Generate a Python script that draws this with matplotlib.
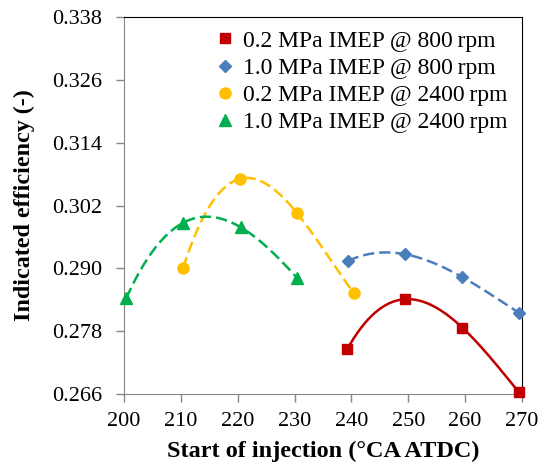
import numpy as np
import matplotlib
matplotlib.use('Agg')
from matplotlib import pyplot as plt

plt.rcParams['font.family'] = ['Liberation Serif', 'DejaVu Serif']

# start of injection (deg CA ATDC) and indicated efficiency
soi_800_low = [239.3, 249.4, 259.5, 269.5]
eff_800_low = [0.2746, 0.2841, 0.2787, 0.2663]

soi_800_high = [239.4, 249.4, 259.4, 269.5]
eff_800_high = [0.2914, 0.2927, 0.2884, 0.2815]

soi_2400_low = [210.4, 220.4, 230.4, 240.4]
eff_2400_low = [0.2901, 0.3071, 0.3006, 0.2853]

soi_2400_high = [200.4, 210.4, 220.6, 230.5]
eff_2400_high = [0.2843, 0.2987, 0.2978, 0.2881]

labels = ['0.2 MPa IMEP @ 800\u2009rpm', '1.0 MPa IMEP @ 800\u2009rpm',
          '0.2 MPa IMEP @ 2400\u2009rpm', '1.0 MPa IMEP @ 2400\u2009rpm']

fig = plt.figure(figsize=(5.38, 4.65), dpi=100)
ax = fig.add_axes([0.2305, 0.1527, 0.7395, 0.8107])

dash = (0, (4.5, 2))
series = [
    (soi_800_low, eff_800_low, '#C00000', 's', '-', 7),
    (soi_800_high, eff_800_high, '#4A7EBB', 'D', dash, 6),
    (soi_2400_low, eff_2400_low, '#FFC000', 'o', dash, 8),
    (soi_2400_high, eff_2400_high, '#00B050', '^', dash, 8.5),
]

for (x, y, c, m, ls, ms), lab in zip(series, labels):
    # polynomial trendline through the points
    coef = np.polyfit(x, y, 3)
    xs = np.linspace(min(x), max(x), 200)
    ax.plot(xs, np.polyval(coef, xs), color=c, linestyle=ls, linewidth=1.8)
    ax.plot(x, y, linestyle='none', marker=m, color=c, markersize=ms,
            label=lab, clip_on=False, zorder=5)

ax.set_xlim(200, 270)
ax.set_ylim(0.266, 0.338)
ax.set_xticks(np.arange(200, 271, 10))
ax.set_yticks(np.arange(0.266, 0.3381, 0.012))
ax.set_yticklabels(['%.3f' % v for v in np.arange(0.266, 0.3381, 0.012)])

for s in ['left', 'bottom']:
    ax.spines[s].set_color('#868686')
for s in ['top', 'right']:
    ax.spines[s].set_color('black')
ax.tick_params(axis='both', which='major', labelsize=16, color='#868686',
               length=6, width=1, direction='out')
ax.tick_params(axis='x', pad=7)
ax.tick_params(axis='y', pad=10)

ax.set_xlabel('Start of injection (\u00b0CA ATDC)', fontsize=17.5,
              fontweight='bold', labelpad=7)
ax.set_ylabel('Indicated efficiency (-)', fontsize=17.3, fontweight='bold',
              labelpad=12)

ax.legend(loc='upper left', bbox_to_anchor=(0.2, 0.99), frameon=False,
          fontsize=17, handlelength=1.0, handletextpad=0.25, labelspacing=0.24,
          borderaxespad=0)

plt.savefig('out.png', dpi=100)
